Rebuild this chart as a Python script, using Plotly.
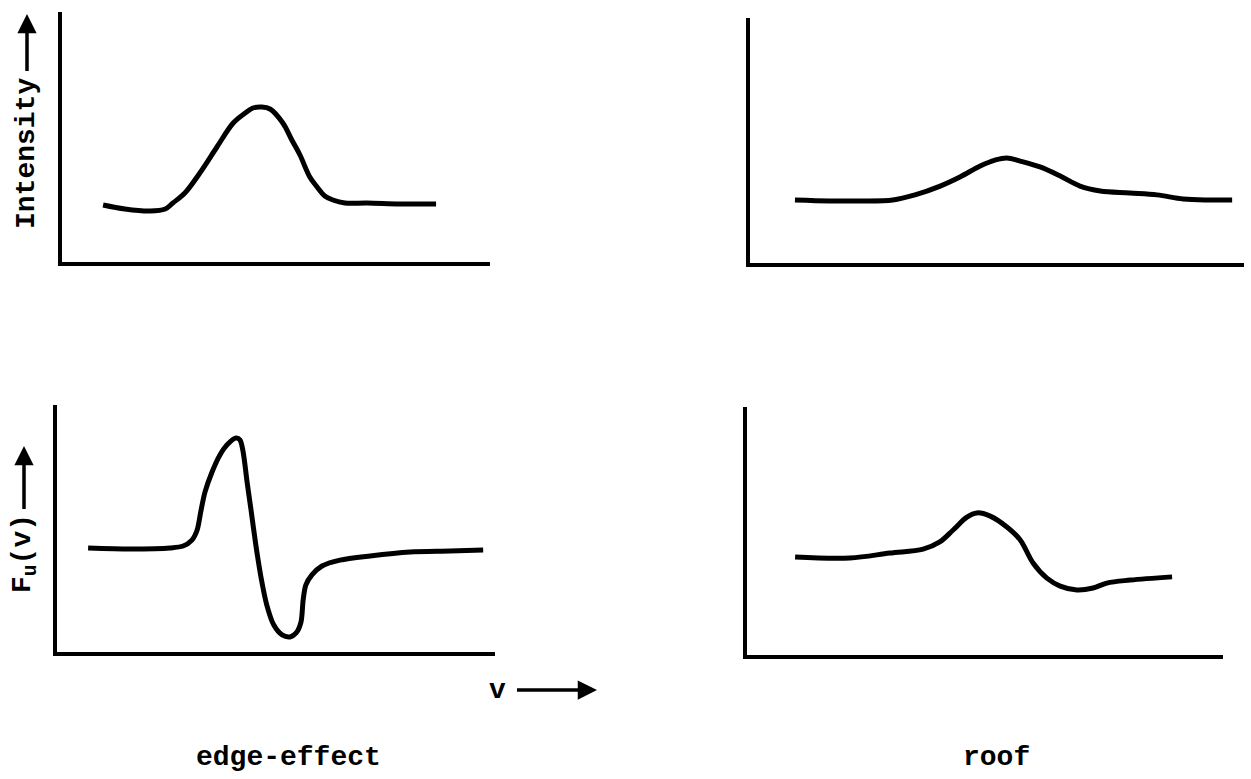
import plotly.graph_objects as go

# ---- data (arbitrary units, 0..100 on each panel's axes) ----
tl_x = [9.6, 14.7, 20.6, 24.1, 25.9, 28.7, 32.2, 36.2, 40.0, 42.8, 44.6, 46.7, 48.6, 51.6, 53.7, 55.6, 57.9, 59.6, 61.4, 63.3, 66.1, 71.3, 79.0, 87.4]
tl_y = [22.8, 21.2, 20.4, 21.2, 23.6, 27.6, 35.6, 46.0, 55.6, 59.6, 61.6, 62.0, 61.2, 55.6, 48.8, 42.8, 34.0, 30.0, 26.4, 24.8, 23.6, 23.6, 23.2, 23.2]

tr_x = [9.1, 16.2, 22.3, 28.9, 33.4, 38.5, 42.5, 46.6, 49.6, 52.0, 54.7, 58.7, 62.8, 66.8, 70.9, 76.9, 82.4, 87.7, 93.1, 97.6]
tr_y = [25.7, 25.3, 25.3, 25.7, 27.8, 31.4, 35.1, 39.6, 42.0, 42.9, 41.6, 39.2, 35.5, 31.4, 29.4, 28.6, 27.8, 26.1, 25.7, 25.7]

bl_x = [7.1, 16.7, 25.8, 28.8, 30.8, 32.0, 32.9, 33.8, 35.4, 37.2, 39.0, 40.9, 41.8, 42.5, 43.4, 44.3, 45.4, 46.6, 47.9, 49.5, 51.4, 53.2, 54.6, 55.7, 56.2, 56.8, 58.2, 60.5, 64.6, 71.5, 80.6, 89.7, 97.3]
bl_y = [42.1, 41.7, 42.1, 42.9, 45.3, 49.4, 57.5, 64.8, 72.9, 79.8, 84.2, 86.6, 85.8, 81.0, 68.8, 57.5, 43.3, 30.0, 19.0, 10.9, 6.9, 6.1, 7.7, 12.1, 21.1, 27.1, 31.2, 34.8, 37.2, 38.9, 40.5, 40.9, 41.3]

br_x = [10.1, 21.6, 30.0, 37.0, 40.5, 43.3, 46.2, 48.3, 51.1, 54.6, 57.4, 60.1, 63.0, 65.8, 69.3, 72.7, 75.6, 80.5, 89.3]
br_y = [39.5, 39.1, 41.1, 42.7, 45.6, 50.4, 55.6, 57.3, 56.0, 51.6, 46.4, 37.1, 31.0, 27.8, 26.2, 27.0, 29.0, 30.2, 31.5]

y_label_top = "Intensity"
y_label_bottom = "F<sub>u</sub>(v)"
x_label = "v"
captions = ["edge-effect", "roof"]

# ---- layout helpers ----
W, H = 1251, 779
def px_x(p):
    return p / W
def px_y(p):
    return 1 - p / H

FONT = "Liberation Mono"
fig = go.Figure()

panels = [
    ("x", "y", tl_x, tl_y, (62, 490), (12, 262), 1.0),
    ("x2", "y2", tr_x, tr_y, (750, 1244), (18, 263), 1.0),
    ("x3", "y3", bl_x, bl_y, (57, 495), (405, 652), 0.8),
    ("x4", "y4", br_x, br_y, (747, 1223), (407, 655), 1.0),
]

for i, (xa, ya, xs, ys, (x0, x1), (y0, y1), sm) in enumerate(panels):
    fig.add_trace(go.Scatter(
        x=xs, y=ys, xaxis=xa, yaxis=ya, mode="lines",
        line=dict(color="black", width=5, shape="spline", smoothing=sm),
        showlegend=False, hoverinfo="skip"))
    n = "" if i == 0 else str(i + 1)
    axcommon = dict(showline=True, linewidth=3.5, linecolor="black", showgrid=False,
                    zeroline=False, showticklabels=False, ticks="", range=[0, 100], fixedrange=True)
    fig.update_layout(**{
        "xaxis" + n: dict(domain=[px_x(x0), px_x(x1)], anchor="y" + n, **axcommon),
        "yaxis" + n: dict(domain=[px_y(y1), px_y(y0)], anchor="x" + n, **axcommon),
    })

annots = []
tfont = dict(family=FONT, size=28, color="black", weight="bold")
arrow = dict(showarrow=True, arrowhead=2, arrowsize=1.1, arrowwidth=3.5, arrowcolor="black")
# y labels (rotated) with arrows pointing up
annots.append(dict(text=y_label_top, x=px_x(27), y=px_y(14), xref="paper", yref="paper",
                   textangle=-90, font=tfont, ax=0, ay=140, startstandoff=6, **arrow))
annots.append(dict(text=y_label_bottom, x=px_x(24), y=px_y(446), xref="paper", yref="paper",
                   textangle=-90, font=tfont, ax=0, ay=108, startstandoff=4, **arrow))
# x label with arrow pointing right
annots.append(dict(text=x_label, x=px_x(597), y=px_y(690), xref="paper", yref="paper",
                   font=tfont, ax=-100, ay=0, startstandoff=10, **arrow))
# captions
annots.append(dict(text=captions[0], x=px_x(288), y=px_y(757), xref="paper", yref="paper",
                   showarrow=False, font=tfont, xanchor="center", yanchor="middle"))
annots.append(dict(text=captions[1], x=px_x(996), y=px_y(757), xref="paper", yref="paper",
                   showarrow=False, font=tfont, xanchor="center", yanchor="middle"))

fig.update_layout(width=W, height=H, margin=dict(l=0, r=0, t=0, b=0),
                  paper_bgcolor="white", plot_bgcolor="white", annotations=annots)

fig.write_html("out.html", config={"displayModeBar": False},
               post_script="document.body.style.margin='0';")
